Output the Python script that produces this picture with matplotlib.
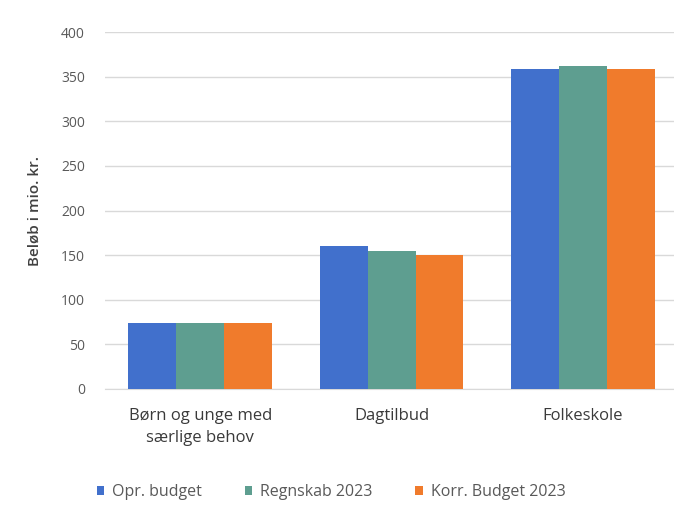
import numpy as np
import matplotlib
matplotlib.use("Agg")
from matplotlib import pyplot as plt

# Data
categories = ["Børn og unge med\nsærlige behov", "Dagtilbud", "Folkeskole"]
series_names = ["Opr. budget", "Regnskab 2023", "Korr. Budget 2023"]
opr_budget = [74, 160, 359]
regnskab_2023 = [74, 155, 362]
korr_budget_2023 = [74, 150, 359]
yticks = [0, 50, 100, 150, 200, 250, 300, 350, 400]

colors = ["#4170CC", "#5E9E90", "#F07B2C"]

plt.rcParams['font.family'] = ['Open Sans', 'DejaVu Sans']

fig = plt.figure(figsize=(6.74, 5.27), dpi=100)
ax = fig.add_axes([104.5/674, 138/527, (674-104.5)/674, 357/527])

x = np.arange(len(categories))
w = 0.25
for i, vals in enumerate([opr_budget, regnskab_2023, korr_budget_2023]):
	ax.bar(x + (i-1)*w, vals, w, color=colors[i], label=series_names[i], zorder=3)

ax.set_ylim(0, 400)
ax.set_xlim(-0.5, 2.475)
ax.set_yticks(yticks)
ax.set_xticks(x)
ax.set_xticklabels(categories, fontsize=12, color="#3A3A3A", linespacing=1.5)
ax.tick_params(axis='y', labelsize=10, labelcolor="#595959", length=0, pad=14)
ax.tick_params(axis='x', length=0, pad=14)
ax.grid(axis='y', color="#D9D9D9", linewidth=1, zorder=0)
for s in ["top", "right", "left"]:
	ax.spines[s].set_visible(False)
ax.spines["bottom"].set_color("#D9D9D9")

ax.set_ylabel("Beløb i mio. kr.", fontsize=11, color="#404040", fontweight='semibold', labelpad=14)

fig.legend(loc='center', bbox_to_anchor=(331/674, 1-492/527), ncol=3, frameon=False,
	fontsize=11.5, handlelength=0.45, handleheight=0.45, handletextpad=0.5, columnspacing=2.7,
	labelcolor="#595959")

fig.savefig("out.png", dpi=100)
